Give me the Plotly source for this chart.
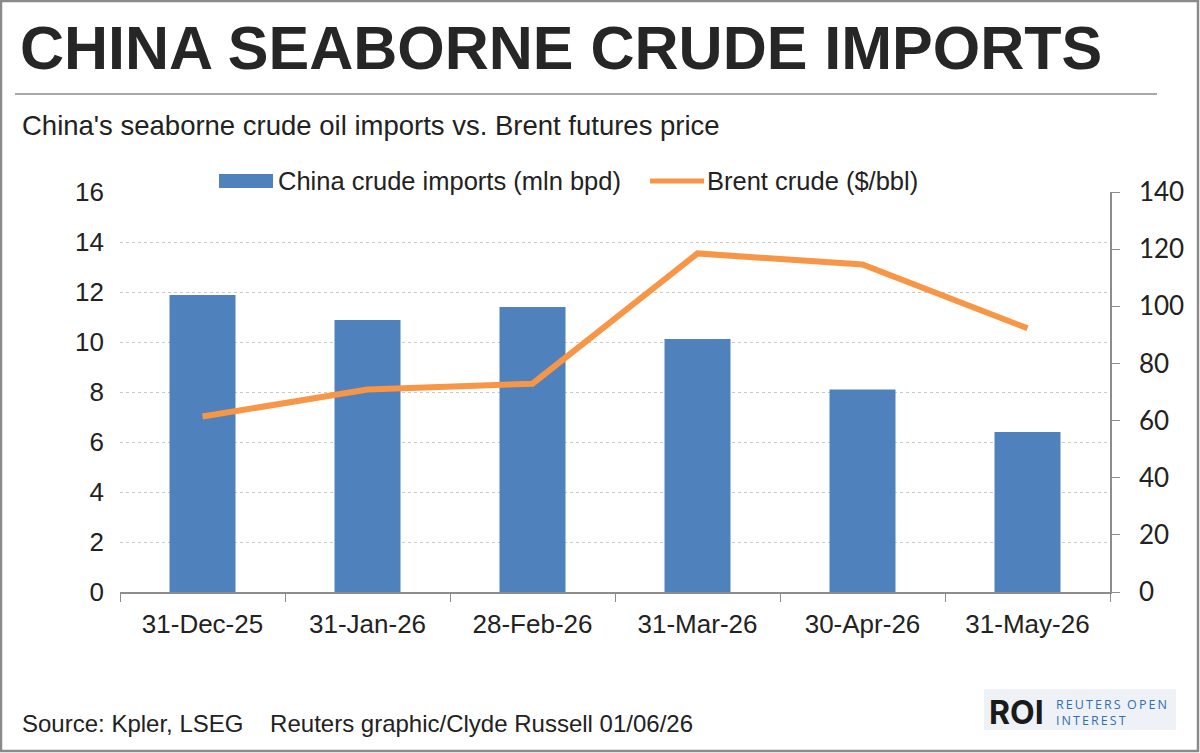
import plotly.graph_objects as go

categories = ["31-Dec-25", "31-Jan-26", "28-Feb-26", "31-Mar-26", "30-Apr-26", "31-May-26"]
imports_mbpd = [11.88, 10.88, 11.4, 10.12, 8.1, 6.4]
brent_usd = [61.4, 70.9, 72.9, 118.5, 114.6, 92.3]
left_ticks = [0, 2, 4, 6, 8, 10, 12, 14, 16]
right_ticks = [0, 20, 40, 60, 80, 100, 120, 140]

BAR = "#4F81BD"
LINE = "#F79646"
TXT = "#222222"
ARIAL = "Liberation Sans, Arial, sans-serif"
CAL = "Lato, Carlito, sans-serif"

fig = go.Figure()
fig.add_trace(go.Bar(x=categories, y=imports_mbpd, marker=dict(color=BAR, line=dict(width=0)),
                     width=0.4, name="China crude imports (mln bpd)", showlegend=False))
fig.add_trace(go.Scatter(x=categories, y=brent_usd, mode="lines", yaxis="y2",
                         line=dict(color=LINE, width=6), name="Brent crude ($/bbl)",
                         showlegend=False))

fig.update_layout(
    width=1200, height=753,
    margin=dict(l=120, r=90, t=192, b=161),
    paper_bgcolor="white", plot_bgcolor="white",
    bargap=0.6,
    xaxis=dict(type="category", showline=True, linecolor="#8c8c8c", linewidth=1.5,
               ticks="outside", tickson="boundaries", ticklen=8, tickcolor="#8c8c8c",
               tickfont=dict(family=ARIAL, size=26, color=TXT), showgrid=False,
               range=[-0.5, 5.5], ticklabelstandoff=8),
    yaxis=dict(range=[0, 16], tickvals=left_ticks, showline=False, ticks="",
               tickfont=dict(family=ARIAL, size=26, color=TXT),
               gridcolor="#c9c9c9", griddash="dot", gridwidth=1, zeroline=False,
               ticklabelstandoff=15),
    yaxis2=dict(range=[0, 140], tickvals=right_ticks, overlaying="y", side="right",
                showline=True, linecolor="#8c8c8c", linewidth=1.5, ticks="outside",
                ticklen=8, tickcolor="#8c8c8c", showgrid=False, zeroline=False,
                tickfont=dict(family=CAL, size=26, color=TXT), ticklabelstandoff=14),
    font=dict(family=ARIAL, color=TXT),
)

pl, pr, pt, pb = 120, 1110, 192, 592
def px(x):
    return (x - pl) / (pr - pl)
def py(y):
    return (pb - y) / (pb - pt)

shapes = [
    dict(type="rect", xref="paper", yref="paper", x0=px(1), x1=px(1198), y0=py(1), y1=py(751),
         line=dict(color="#8a8a8a", width=2.5), fillcolor="rgba(0,0,0,0)", layer="below"),
    dict(type="line", xref="paper", yref="paper", x0=px(15), x1=px(1157), y0=py(94), y1=py(94),
         line=dict(color="#a8a8a8", width=2)),
    dict(type="rect", xref="paper", yref="paper", x0=px(219), x1=px(273), y0=py(174), y1=py(188),
         line=dict(width=0), fillcolor=BAR),
    dict(type="line", xref="paper", yref="paper", x0=px(650), x1=px(704), y0=py(181), y1=py(181),
         line=dict(color=LINE, width=5)),
    dict(type="rect", xref="paper", yref="paper", x0=px(984), x1=px(1176), y0=py(689), y1=py(730),
         line=dict(width=0), fillcolor="#eef2f7", layer="below"),
]

TS = "\u2009"
def spaced(s):
    return TS.join(list(s))

annotations = [
    dict(text="<b>CHINA SEABORNE CRUDE IMPORTS</b>", x=px(18), y=py(48), xref="paper", yref="paper",
         xanchor="left", yanchor="middle", showarrow=False,
         font=dict(family="Liberation Sans Narrow, Liberation Sans, Arial", size=61, color="#262626")),
    dict(text="China's seaborne crude oil imports vs. Brent futures price", x=px(20), y=py(125),
         xref="paper", yref="paper", xanchor="left", yanchor="middle", showarrow=False,
         font=dict(family=ARIAL, size=27.5, color=TXT)),
    dict(text="China crude imports (mln bpd)", x=px(276), y=py(181), xref="paper", yref="paper",
         xanchor="left", yanchor="middle", showarrow=False, font=dict(family=ARIAL, size=25.5, color=TXT)),
    dict(text="Brent crude ($/bbl)", x=px(705), y=py(181), xref="paper", yref="paper",
         xanchor="left", yanchor="middle", showarrow=False, font=dict(family=ARIAL, size=25.5, color=TXT)),
    dict(text="Source: Kpler, LSEG    Reuters graphic/Clyde Russell 01/06/26", x=px(20), y=py(723),
         xref="paper", yref="paper", xanchor="left", yanchor="middle", showarrow=False,
         font=dict(family=ARIAL, size=24, color=TXT)),
    dict(text="<b>ROI</b>", x=px(987), y=py(712), xref="paper", yref="paper",
         xanchor="left", yanchor="middle", showarrow=False,
         font=dict(family="Inter, Liberation Sans", size=32, color="#1a1a1a")),
    dict(text=spaced("REUTERS") + "  " + spaced("OPEN") + "<br>" + spaced("INTEREST"),
         x=px(1054), y=py(712), xref="paper", yref="paper",
         xanchor="left", yanchor="middle", align="left", showarrow=False,
         font=dict(family="Open Sans, Liberation Sans", size=12.5, color="#2f6eb5")),
]

fig.update_layout(shapes=shapes, annotations=annotations)
fig.write_html("out.html")
